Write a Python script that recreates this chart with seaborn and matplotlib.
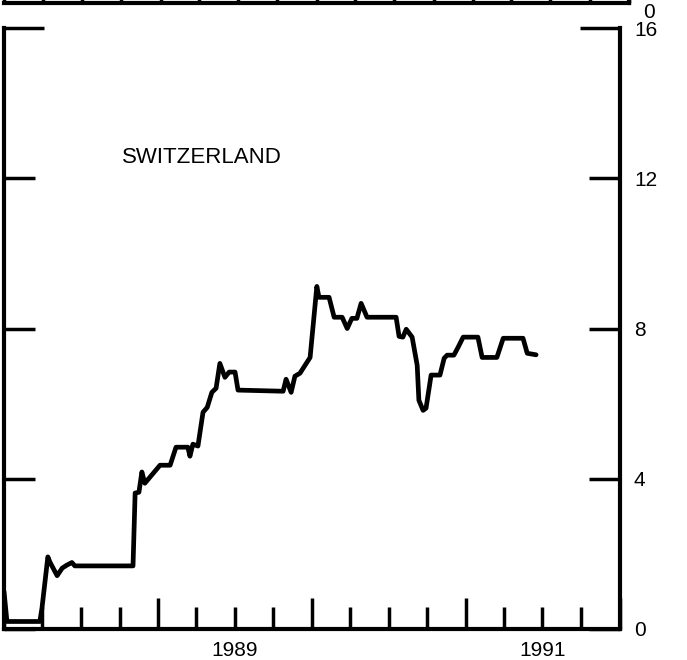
import matplotlib
matplotlib.use('Agg')  # Headless
import matplotlib.pyplot as plt
import matplotlib.dates as mdates
from matplotlib.ticker import FuncFormatter
import seaborn as sns
import pandas as pd

# Switzerland series
dates = [
    '1988-01-01', '1988-01-08', '1988-03-26', '1988-03-31', '1988-04-14',
    '1988-04-19', '1988-05-06', '1988-05-18', '1988-05-29', '1988-06-10',
    '1988-06-17', '1988-11-02', '1988-11-07', '1988-11-16', '1988-11-23',
    '1988-11-30', '1989-01-05', '1989-01-29', '1989-02-12', '1989-03-12',
    '1989-03-17', '1989-03-24', '1989-04-05', '1989-04-17', '1989-04-27',
    '1989-05-08', '1989-05-18', '1989-05-27', '1989-06-08', '1989-06-18',
    '1989-07-02', '1989-07-09', '1989-10-24', '1989-10-31', '1989-11-12',
    '1989-11-21', '1989-12-03', '1989-12-15', '1989-12-27', '1990-01-12',
    '1990-01-17', '1990-02-10', '1990-02-22', '1990-03-13', '1990-03-25',
    '1990-04-05', '1990-04-17', '1990-04-27', '1990-05-11', '1990-07-19',
    '1990-07-26', '1990-08-04', '1990-08-12', '1990-08-26', '1990-09-07',
    '1990-09-11', '1990-09-21', '1990-09-28', '1990-10-10', '1990-10-31',
    '1990-11-10', '1990-11-17', '1990-12-03', '1990-12-13', '1990-12-25',
    '1991-01-29', '1991-02-08', '1991-03-15', '1991-03-30', '1991-05-16',
    '1991-05-26', '1991-06-16',
]
rates = [
    1.0, 0.2, 0.2, 0.55, 1.92,
    1.78, 1.42, 1.62, 1.70, 1.77,
    1.68, 1.68, 3.62, 3.64, 4.18,
    3.88, 4.36, 4.36, 4.84, 4.84,
    4.60, 4.92, 4.87, 5.77, 5.90,
    6.30, 6.41, 7.07, 6.70, 6.84,
    6.84, 6.36, 6.33, 6.65, 6.30,
    6.73, 6.81, 7.02, 7.23, 9.12,
    8.83, 8.83, 8.30, 8.30, 8.00,
    8.27, 8.27, 8.67, 8.30, 8.30,
    7.79, 7.77, 7.98, 7.77, 7.02,
    6.09, 5.82, 5.88, 6.76, 6.76,
    7.21, 7.29, 7.29, 7.50, 7.77,
    7.77, 7.23, 7.23, 7.74, 7.74,
    7.34, 7.30,
]
panel_title = 'SWITZERLAND'
y_ticks = [0, 4, 8, 12]
y_top = 16
labelled_years = [1989, 1991]
x_start, x_end = '1988-01-01', '1992-01-01'

sns.set_theme(style='white')
plt.rcParams['font.family'] = ['Liberation Sans', 'DejaVu Sans']

W, H = 687, 660
fig = plt.figure(figsize=(W / 100, H / 100), dpi=100)


def style_frame(ax):
    ax.spines['top'].set_visible(False)
    for side in ['left', 'right', 'bottom']:
        ax.spines[side].set_visible(True)
        ax.spines[side].set_color('black')
        ax.spines[side].set_linewidth(3)
    ax.set_facecolor('white')
    ax.grid(False)


def year_label(x, pos):
    d = mdates.num2date(x)
    if d.month == 7 and d.year in labelled_years:
        return str(d.year)
    return ''


# sliver of the panel above (cut off by the scan)
ax_top = fig.add_axes([4 / W, (H - 3) / H, 625 / W, 0.3])
style_frame(ax_top)
ax_top.spines['left'].set_visible(False)
ax_top.set_xlim(pd.Timestamp(x_start), pd.Timestamp(x_end))
ax_top.set_ylim(0, y_top)
ax_top.xaxis.set_major_locator(mdates.MonthLocator(bymonth=[1, 4, 7, 10]))
ax_top.xaxis.set_major_formatter(FuncFormatter(lambda x, pos: ''))
ax_top.tick_params(axis='x', bottom=True, direction='in', length=12, width=2.5, color='black')
ax_top.set_yticks([0])
ax_top.tick_params(axis='y', left=False, right=True, labelleft=False, labelright=True,
                   direction='in', length=0, labelsize=15, labelcolor='black', pad=10)
for lbl in ax_top.get_yticklabels():
    lbl.set_verticalalignment('top')

# main panel
ax = fig.add_axes([4 / W, 31 / H, 616 / W, 601 / H])
style_frame(ax)
sns.lineplot(x=pd.to_datetime(dates), y=rates, color='black', linewidth=3.4, ax=ax,
             solid_joinstyle='round', solid_capstyle='round')
ax.set_xlim(pd.Timestamp(x_start), pd.Timestamp(x_end))
ax.set_ylim(0, y_top)
ax.set_xlabel('')
ax.set_ylabel('')

ax.set_yticks(y_ticks)
ax.set_yticks([y_top], minor=True)
ax.set_yticklabels([str(t) for t in y_ticks])
ax.set_yticklabels([str(y_top)], minor=True)
ax.tick_params(axis='y', which='both', left=True, right=True, labelleft=False,
               labelright=True, direction='in', width=2.5, color='black',
               labelsize=15, labelcolor='black', pad=10)
ax.tick_params(axis='y', which='major', length=22)
ax.tick_params(axis='y', which='minor', length=29)

ax.xaxis.set_major_locator(mdates.MonthLocator(bymonth=[4, 7, 10]))
ax.xaxis.set_minor_locator(mdates.YearLocator())
ax.xaxis.set_major_formatter(FuncFormatter(year_label))
ax.xaxis.set_minor_formatter(FuncFormatter(lambda x, pos: ''))
ax.tick_params(axis='x', which='both', bottom=True, top=False, direction='in',
               width=2.5, color='black', labelsize=15, labelcolor='black', pad=9)
ax.tick_params(axis='x', which='major', length=16)
ax.tick_params(axis='x', which='minor', length=22)

ax.text(0.192, 0.775, panel_title, transform=ax.transAxes, fontsize=16,
        color='black', ha='left', va='baseline')

plt.savefig('out.png', dpi=100, facecolor='white')
plt.close()
